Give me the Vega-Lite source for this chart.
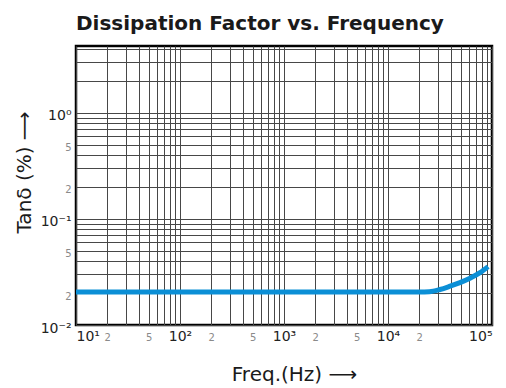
{
  "$schema": "https://vega.github.io/schema/vega-lite/v6.json",
  "width": 416,
  "height": 279,
  "autosize": "none",
  "padding": {"left": 76, "top": 46, "right": 14, "bottom": 63},
  "background": "white",
  "title": {
    "text": "Dissipation Factor vs. Frequency",
    "anchor": "start",
    "frame": "group",
    "font": "DejaVu Sans",
    "fontSize": 20,
    "fontWeight": "bold",
    "color": "#1a1a1a",
    "offset": 12
  },
  "config": {
    "view": {"stroke": "black", "strokeWidth": 2.5},
    "axis": {"labelFont": "DejaVu Sans", "titleFont": "DejaVu Sans"}
  },
  "data": {
    "values": [
      {"freq": 10, "tand": 0.0205},
      {"freq": 100, "tand": 0.0205},
      {"freq": 1000, "tand": 0.0205},
      {"freq": 10000, "tand": 0.0205},
      {"freq": 20000, "tand": 0.0205},
      {"freq": 25000, "tand": 0.0206},
      {"freq": 31600, "tand": 0.0216},
      {"freq": 39500, "tand": 0.0232},
      {"freq": 49200, "tand": 0.0251},
      {"freq": 61400, "tand": 0.0276},
      {"freq": 76700, "tand": 0.0311},
      {"freq": 91600, "tand": 0.0355}
    ]
  },
  "mark": {"type": "line", "color": "#0b8fd6", "strokeWidth": 5, "interpolate": "monotone", "clip": true},
  "encoding": {
    "x": {
      "field": "freq",
      "type": "quantitative",
      "scale": {"type": "log", "domain": [10, 100000], "nice": false},
      "axis": {
        "values": [10,20,30,40,50,60,70,80,90,100,200,300,400,500,600,700,800,900,1000,2000,3000,4000,5000,6000,7000,8000,9000,10000,20000,30000,40000,50000,60000,70000,80000,90000,100000],
        "labelExpr": "datum.value==10 ? '10¹' : datum.value==100 ? '10²' : datum.value==1000 ? '10³' : datum.value==10000 ? '10⁴' : datum.value==100000 ? '10⁵' : (datum.value==20||datum.value==200||datum.value==2000||datum.value==20000) ? '2' : (datum.value==50||datum.value==500||datum.value==5000) ? '5' : ''",
        "labelFontSize": {"condition": {"test": "datum.value==10||datum.value==100||datum.value==1000||datum.value==10000||datum.value==100000", "value": 14}, "value": 10},
        "labelColor": {"condition": {"test": "datum.value==10||datum.value==100||datum.value==1000||datum.value==10000||datum.value==100000", "value": "#222222"}, "value": "#8a8a8a"},
        "labelBaseline": "alphabetic",
        "labelPadding": 15,
        "labelFlush": true,
        "labelOverlap": false,
        "ticks": false,
        "domain": false,
        "grid": true,
        "gridColor": "#474747",
        "gridWidth": 1,
        "gridOpacity": 1,
        "title": "Freq.(Hz) ⟶",
        "titleFontSize": 20,
        "titleFontWeight": "normal",
        "titleColor": "#1a1a1a",
        "titleBaseline": "alphabetic",
        "titleAlign": "center",
        "titleX": 218,
        "titleY": 55
      }
    },
    "y": {
      "field": "tand",
      "type": "quantitative",
      "scale": {"type": "log", "domain": [0.01, 4.25], "nice": false},
      "axis": {
        "values": [0.01,0.02,0.03,0.04,0.05,0.06,0.07,0.08,0.09,0.1,0.2,0.3,0.4,0.5,0.6,0.7,0.8,0.9,1,2,3,4],
        "labelExpr": "datum.value==1 ? '10⁰' : datum.value==0.1 ? '10⁻¹' : datum.value==0.01 ? '10⁻²' : (datum.value==0.5||datum.value==0.05) ? '5' : (datum.value==0.2||datum.value==0.02) ? '2' : ''",
        "labelFontSize": {"condition": {"test": "datum.value==1||datum.value==0.1||datum.value==0.01", "value": 14}, "value": 10},
        "labelColor": {"condition": {"test": "datum.value==1||datum.value==0.1||datum.value==0.01", "value": "#222222"}, "value": "#8a8a8a"},
        "labelBaseline": "middle",
        "labelPadding": 5,
        "labelOffset": 3,
        "labelFlush": false,
        "labelOverlap": false,
        "ticks": false,
        "domain": false,
        "grid": true,
        "gridColor": "#474747",
        "gridWidth": 1,
        "gridOpacity": 1,
        "title": "Tanδ (%) ⟶",
        "titleFontSize": 20,
        "titleFontWeight": "normal",
        "titleColor": "#1a1a1a",
        "titleAngle": -90,
        "titleBaseline": "alphabetic",
        "titleAlign": "center",
        "titleX": -46,
        "titleY": 126
      }
    }
  }
}
